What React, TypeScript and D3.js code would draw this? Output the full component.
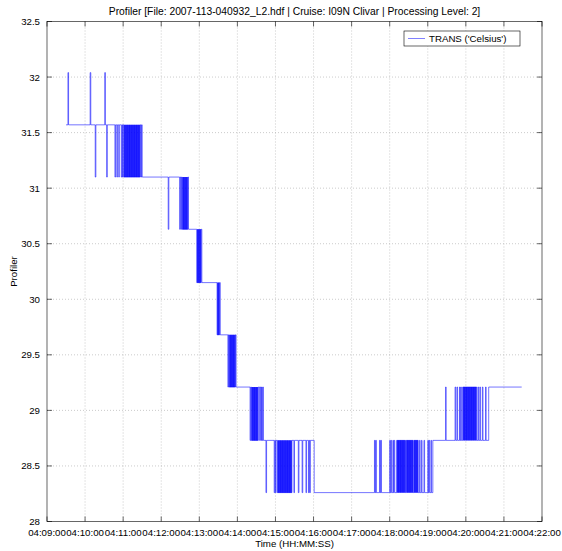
import { useEffect, useRef } from "react";
import * as d3 from "d3";

// quantised TRANS levels (Celsius)
const levels = [32.04, 31.57, 31.1, 30.63, 30.15, 29.68, 29.21, 28.73, 28.26];

// [seconds after 04:09:00, level index] where the baseline steps to a new level
const plateaus: [number, number][] = [
  [30, 1], [150, 2], [223, 3], [244, 4], [273, 5], [298, 6], [341, 7], [421, 8], [608, 7], [696, 6],
];
const endSec = 748;

// [seconds, level index] one-sample excursions away from the baseline
const spikes: [number, number][] = [
  [33, 0], [68, 0], [76, 2], [91, 0], [94, 2],
  [107, 2], [110, 2], [113, 2], [117, 2], [119, 2], [121, 2], [122, 2], [123, 2], [124, 2], [125, 2],
  [126, 2], [127, 2], [128, 2], [129, 2], [130, 2], [131, 2], [132, 2], [133, 2], [134, 2], [135, 2],
  [136, 2], [137, 2], [138, 2], [139, 2], [140, 2], [141, 2], [142, 2], [143, 2], [144, 2], [145, 2],
  [146, 2], [148, 2],
  [191, 3], [209, 3], [211, 3], [213, 3], [214, 3], [215, 3], [216, 3], [217, 3], [218, 3], [219, 3],
  [220, 3], [221, 3],
  [236, 4], [237, 4], [238, 4], [239, 4], [240, 4], [241, 4], [242, 4],
  [268, 5], [269, 5], [270, 5], [271, 5],
  [285, 6], [287, 6], [288, 6], [289, 6], [290, 6], [291, 6], [292, 6], [293, 6], [294, 6], [295, 6],
  [296, 6],
  [320, 7], [322, 7], [323, 7], [324, 7], [325, 7], [326, 7], [327, 7], [328, 7], [329, 7], [330, 7],
  [331, 7], [332, 7], [335, 7], [337, 7], [339, 7],
  [345, 8], [358, 8], [360, 8], [363, 8], [364, 8], [365, 8], [366, 8], [367, 8], [368, 8], [369, 8],
  [370, 8], [371, 8], [372, 8], [373, 8], [374, 8], [375, 8], [376, 8], [377, 8], [378, 8], [379, 8],
  [380, 8], [381, 8], [382, 8], [383, 8], [384, 8], [385, 8], [389, 8], [396, 8], [402, 8], [408, 8],
  [412, 8], [414, 8],
  [516, 7], [518, 7], [524, 7], [526, 7], [540, 7], [542, 7], [545, 7], [547, 7], [551, 7], [552, 7],
  [553, 7], [554, 7], [555, 7], [556, 7], [557, 7], [558, 7], [559, 7], [560, 7], [561, 7], [562, 7],
  [563, 7], [564, 7], [566, 7], [567, 7], [568, 7], [569, 7], [570, 7], [571, 7], [572, 7], [573, 7],
  [574, 7], [575, 7], [576, 7], [578, 7], [579, 7], [580, 7], [581, 7], [582, 7], [583, 7], [584, 7],
  [587, 7], [590, 7], [594, 7], [600, 7], [602, 7], [605, 7],
  [628, 6], [643, 6], [646, 6], [650, 6], [652, 6], [655, 6], [656, 6], [657, 6], [658, 6], [659, 6],
  [660, 6], [661, 6], [662, 6], [663, 6], [664, 6], [665, 6], [666, 6], [667, 6], [668, 6], [669, 6],
  [670, 6], [671, 6], [672, 6], [673, 6], [674, 6], [675, 6], [676, 6], [679, 6], [682, 6], [686, 6],
  [691, 6],
];

const yTicks = [28, 28.5, 29, 29.5, 30, 30.5, 31, 31.5, 32, 32.5];
const t0 = new Date(2007, 3, 23, 4, 9, 0);
const t1 = new Date(2007, 3, 23, 4, 22, 0);
const title = "Profiler [File: 2007-113-040932_L2.hdf | Cruise: I09N Clivar | Processing Level: 2]";

const buildSeries = () => {
  const pts: [number, number][] = [];
  plateaus.forEach(([start, idx], i) => {
    const end = i < plateaus.length - 1 ? plateaus[i + 1][0] : endSec;
    const base = levels[idx];
    pts.push([start, base]);
    spikes
      .filter(([s]) => s >= start && s < end)
      .forEach(([s, k]) => {
        pts.push([s, base], [s, levels[k]], [s + 1, levels[k]], [s + 1, base]);
      });
    pts.push([end, base]);
  });
  return pts;
};

export default function App() {
  const ref = useRef<SVGSVGElement>(null);

  useEffect(() => {
    if (!ref.current) return;
    const svg = d3.select(ref.current);
    svg.selectAll("*").remove();
    const w = 562;
    const h = 551;
    const m = { t: 21.5, r: 20, b: 29.5, l: 47 };
    const font = "Liberation Sans, Arial, sans-serif";

    const x = d3.scaleTime().domain([t0, t1]).range([m.l, w - m.r]);
    const y = d3.scaleLinear().domain([28, 32.5]).range([h - m.b, m.t]);
    const xs = (s: number) => x(new Date(t0.getTime() + s * 1000));
    const xTicks = d3.timeMinute.range(t0, new Date(t1.getTime() + 1));
    const fmt = d3.timeFormat("%H:%M:%S");

    svg.append("rect")
      .attr("x", m.l).attr("y", m.t)
      .attr("width", w - m.l - m.r).attr("height", h - m.t - m.b)
      .attr("fill", "#fff");

    // grid
    const grid = svg.append("g").attr("stroke", "#a8a8a8").attr("stroke-width", 0.6).attr("stroke-dasharray", "1 2");
    xTicks.slice(1, -1).forEach((d) => {
      grid.append("line").attr("x1", x(d)).attr("x2", x(d)).attr("y1", m.t).attr("y2", h - m.b);
    });
    yTicks.slice(1, -1).forEach((d) => {
      grid.append("line").attr("x1", m.l).attr("x2", w - m.r).attr("y1", y(d)).attr("y2", y(d));
    });

    // data
    const line = d3.line<[number, number]>()
      .x((d) => xs(d[0]))
      .y((d) => y(d[1]));
    svg.append("path")
      .datum(buildSeries())
      .attr("fill", "none")
      .attr("stroke", "#0000ff")
      .attr("stroke-width", 0.55)
      .attr("d", line);

    // box + inward ticks
    const axes = svg.append("g").attr("stroke", "#000").attr("stroke-width", 0.6);
    axes.append("rect")
      .attr("x", m.l).attr("y", m.t)
      .attr("width", w - m.l - m.r).attr("height", h - m.t - m.b)
      .attr("fill", "none");
    xTicks.forEach((d) => {
      axes.append("line").attr("x1", x(d)).attr("x2", x(d)).attr("y1", h - m.b).attr("y2", h - m.b - 5);
      axes.append("line").attr("x1", x(d)).attr("x2", x(d)).attr("y1", m.t).attr("y2", m.t + 5);
    });
    yTicks.forEach((d) => {
      axes.append("line").attr("x1", m.l).attr("x2", m.l + 5).attr("y1", y(d)).attr("y2", y(d));
      axes.append("line").attr("x1", w - m.r).attr("x2", w - m.r - 5).attr("y1", y(d)).attr("y2", y(d));
    });

    const txt = svg.append("g").attr("font-family", font).attr("font-size", 9.7).attr("fill", "#000");
    xTicks.forEach((d) => {
      txt.append("text").attr("x", x(d)).attr("y", h - m.b + 14).attr("text-anchor", "middle").text(fmt(d));
    });
    yTicks.forEach((d) => {
      txt.append("text").attr("x", m.l - 7).attr("y", y(d) + 3.5).attr("text-anchor", "end").text(d3.format("~g")(d));
    });
    txt.append("text").attr("x", (m.l + w - m.r) / 2).attr("y", h - 4).attr("text-anchor", "middle").text("Time (HH:MM:SS)");
    txt.append("text")
      .attr("transform", `translate(17,${(m.t + h - m.b) / 2}) rotate(-90)`)
      .attr("text-anchor", "middle").text("Profiler");
    txt.append("text").attr("x", (m.l + w - m.r) / 2).attr("y", 15).attr("font-size", 10.3)
      .attr("text-anchor", "middle").text(title);

    // legend
    const lg = svg.append("g").attr("transform", "translate(404,31)");
    lg.append("rect").attr("width", 116).attr("height", 15).attr("fill", "#fff").attr("stroke", "#000").attr("stroke-width", 0.6);
    lg.append("line").attr("x1", 4).attr("x2", 21).attr("y1", 7.5).attr("y2", 7.5).attr("stroke", "#0000ff").attr("stroke-width", 0.5);
    lg.append("text").attr("x", 25).attr("y", 11).attr("font-family", font).attr("font-size", 9.7).text("TRANS ('Celsius')");
  }, []);

  return <svg ref={ref} width={562} height={551} style={{ position: "absolute", left: 0, top: 0, background: "#fff" }} />;
}
